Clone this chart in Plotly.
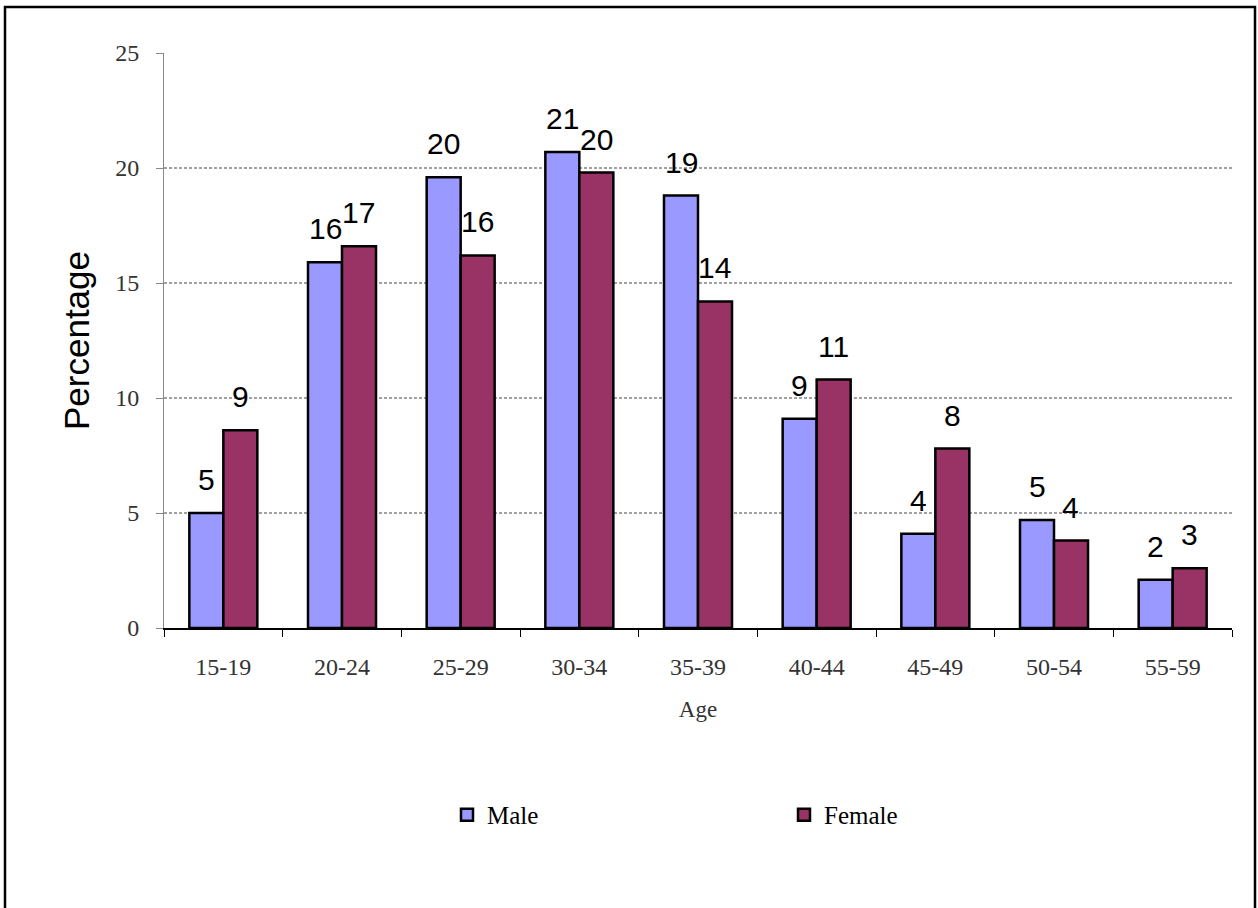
import plotly.graph_objects as go

# Age groups and percentage of respondents by sex
age_groups = ["15-19", "20-24", "25-29", "30-34", "35-39", "40-44", "45-49", "50-54", "55-59"]
male_pct = [5.0, 15.9, 19.6, 20.7, 18.8, 9.1, 4.1, 4.7, 2.1]
female_pct = [8.6, 16.6, 16.2, 19.8, 14.2, 10.8, 7.8, 3.8, 2.6]
y_ticks = [0, 5, 10, 15, 20, 25]

MALE_COLOR = "#9999FF"
FEMALE_COLOR = "#993366"
SERIF = "Liberation Serif, Times New Roman, serif"
SANS = "Liberation Sans, Arial, sans-serif"

W, H = 1258, 908
M_L, M_R, M_T, M_B = 164, 26, 53, 280
plot_w = W - M_L - M_R
plot_h = H - M_T - M_B

fig = go.Figure()
for name, vals, color in [("Male", male_pct, MALE_COLOR), ("Female", female_pct, FEMALE_COLOR)]:
    fig.add_trace(go.Bar(
        x=age_groups, y=vals, name=name,
        marker=dict(color=color, line=dict(color="#000000", width=2.5)),
    ))

# value labels above each bar, shifted onto its half of the group
group_px = plot_w / len(age_groups) * (1 - 0.427)
half = group_px / 4
annotations = []
for vals, shift in [(male_pct, -half), (female_pct, half)]:
    for cat, v in zip(age_groups, vals):
        annotations.append(dict(
            x=cat, y=v, xref="x", yref="y", text=f"{v:.0f}", showarrow=False,
            xshift=shift, yshift=15, yanchor="bottom",
            font=dict(family=SANS, size=30, color="#000000"),
        ))

# dashed horizontal gridlines (none at the top tick)
shapes = []
for t in y_ticks[1:-1]:
    shapes.append(dict(
        type="line", xref="paper", yref="y", x0=0, x1=1, y0=t, y1=t,
        line=dict(color="#444444", width=1.2, dash="3px,2px"), layer="below",
    ))

# outer chart frame, running off the bottom of the page
shapes.append(dict(
    type="rect", xref="paper", yref="paper",
    x0=(5 - M_L) / plot_w, x1=(1255 - M_L) / plot_w,
    y0=-(M_B + 30) / plot_h, y1=1 + (M_T - 7) / plot_h,
    line=dict(color="#000000", width=2.5), fillcolor="rgba(0,0,0,0)",
))

fig.update_layout(
    width=W, height=H,
    margin=dict(l=M_L, r=M_R, t=M_T, b=M_B, pad=0),
    paper_bgcolor="#FFFFFF", plot_bgcolor="#FFFFFF",
    barmode="group", bargap=0.427, bargroupgap=0,
    annotations=annotations, shapes=shapes,
    legend=dict(
        orientation="h", x=(447 - M_L) / plot_w, xanchor="left", y=-0.325, yanchor="middle",
        font=dict(family=SERIF, size=25, color="#000000"),
        entrywidth=292, entrywidthmode="pixels", itemwidth=30,
    ),
    xaxis=dict(
        type="category", showgrid=False, zeroline=False,
        showline=True, linecolor="#000000", linewidth=2,
        ticks="outside", tickson="boundaries", ticklen=7, tickcolor="#000000",
        ticklabelstandoff=16,
        tickfont=dict(family=SERIF, size=24, color="#333333"),
        title=dict(text="Age", font=dict(family=SERIF, size=23, color="#333333"), standoff=22),
    ),
    yaxis=dict(
        range=[0, 25], tickvals=y_ticks, showgrid=False, zeroline=False,
        showline=True, linecolor="#888888", linewidth=1,
        ticks="outside", ticklen=7, tickcolor="#888888",
        ticklabelstandoff=12,
        tickfont=dict(family=SERIF, size=24, color="#333333"),
        title=dict(text="Percentage", font=dict(family=SANS, size=35, color="#000000"), standoff=14),
    ),
)

fig.write_html("out.html")
